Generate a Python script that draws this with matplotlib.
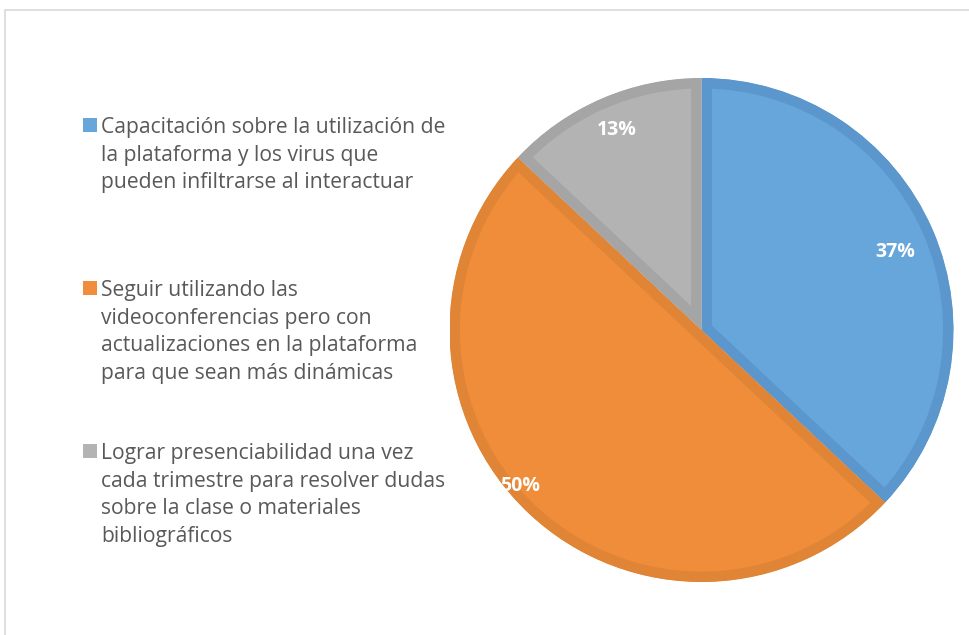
import numpy as np
import matplotlib
matplotlib.use("Agg")
import matplotlib.pyplot as plt
from matplotlib.patches import Rectangle

labels = [
    "Capacitación sobre la utilización de\nla plataforma y los virus que\npueden infiltrarse al interactuar",
    "Seguir utilizando las\nvideoconferencias pero con\nactualizaciones en la plataforma\npara que sean más dinámicas",
    "Lograr presenciabilidad una vez\ncada trimestre para resolver dudas\nsobre la clase o materiales\nbibliográficos",
]
values = [37, 50, 13]
pct_labels = ["37%", "50%", "13%"]

fills = ["#67A6DA", "#F08D3B", "#B3B3B3"]
edges = ["#5B97CC", "#DF8535", "#A5A5A5"]
# label placement: (angle offset in degrees, radial distance)
label_pos = [(-1.5, 0.83), (-6.0, 0.95), (-0.5, 0.86)]

W, H = 969, 635
fig = plt.figure(figsize=(W / 100, H / 100), dpi=100)

# outer chart frame
fig.patches.append(Rectangle((5 / W, -0.1), 1.2, 1 - 10 / H + 0.1, transform=fig.transFigure,
                             fill=False, edgecolor="#D9D9D9", linewidth=1.2))

cx, cy, r = 701.5, 330, 252
ax = fig.add_axes([(cx - r) / W, (H - cy - r) / H, 2 * r / W, 2 * r / H])
wedges, _ = ax.pie(values, colors=fills, startangle=90, counterclock=False, radius=1,
                   wedgeprops=dict(linewidth=15, joinstyle="miter"))
for w, ec in zip(wedges, edges):
    # keep only the inner half of the stroke, like the office-style border
    w.set_edgecolor(ec)
    w.set_clip_path(w)
    w.set_clip_on(True)
ax.set_xlim(-1, 1)
ax.set_ylim(-1, 1)
ax.set_aspect("equal")
ax.axis("off")

total = sum(values)
start = 90.0
for v, txt, (off, dist) in zip(values, pct_labels, label_pos):
    span = 360.0 * v / total
    mid = np.deg2rad(start - span / 2 + off)
    ax.text(dist * np.cos(mid), dist * np.sin(mid), txt, color="white", fontsize=14,
            fontweight="bold", family="Open Sans", ha="center", va="center")
    start -= span

# legend
first_line_y = [127, 290, 453]
for lab, col, yy in zip(labels, fills, first_line_y):
    fig.patches.append(Rectangle((83 / W, 1 - (yy + 5) / H), 14 / W, 14 / H,
                                 transform=fig.transFigure, facecolor=col, edgecolor="none"))
    fig.text(101 / W, 1 - (yy - 10) / H, lab, fontsize=15.2, color="#595959", family="Open Sans",
             ha="left", va="top", linespacing=1.415)

fig.savefig("out.png", dpi=100)
